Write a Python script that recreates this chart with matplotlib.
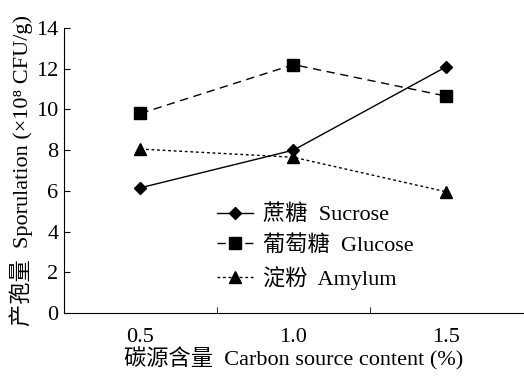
import matplotlib.pyplot as plt
import numpy as np

plt.rcParams['font.family'] = ['Liberation Serif', 'Noto Sans CJK SC']

content = [0.5, 1.0, 1.5]
sucrose = [6.15, 8.0, 12.1]
glucose = [9.8, 12.2, 10.65]
amylum = [8.05, 7.65, 5.95]

fig = plt.figure(figsize=(5.24, 3.76), dpi=100)
ax = fig.add_axes([0.122, 0.1676, 0.876, 0.758])

ax.plot(content, sucrose, color='black', linestyle='-', linewidth=1,
        marker='D', markersize=6, label='蔗糖  Sucrose')
ax.plot(content, glucose, color='black', linestyle=(0, (6, 4)), linewidth=1,
        marker='s', markersize=8, label='葡萄糖  Glucose')
ax.plot(content, amylum, color='black', linestyle=(0, (2, 2)), linewidth=1,
        marker='^', markersize=8, label='淀粉  Amylum')

ax.set_xlim(0.25, 1.75)
ax.set_ylim(0, 14)
ax.set_xticks(content)
ax.set_xticklabels(['0.5', '1.0', '1.5'])
ax.set_xticks([0.75, 1.25], minor=True)
ax.set_yticks(np.arange(0, 15, 2))

ax.spines['top'].set_visible(False)
ax.spines['right'].set_visible(False)
ax.tick_params(axis='x', which='major', length=0, labelsize=16, pad=11)
ax.tick_params(axis='x', which='minor', direction='in', length=4)
ax.tick_params(axis='y', direction='in', length=4, labelsize=16, pad=4)

ax.set_xlabel('碳源含量  Carbon source content (%)', fontsize=16, labelpad=0)
ax.set_ylabel('产孢量  Sporulation (×10⁸ CFU/g)', fontsize=16, labelpad=2)

ax.legend(loc='upper left', bbox_to_anchor=(0.29, 0.45), frameon=False,
          fontsize=16, handlelength=1.6, handletextpad=0.45, labelspacing=0.45)

fig.savefig('out.png', dpi=100)
